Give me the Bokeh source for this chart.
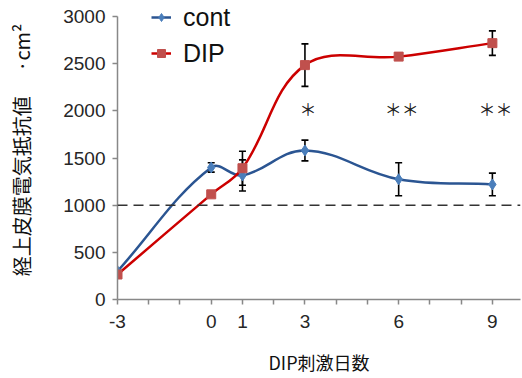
from math import hypot
from bokeh.plotting import figure
from bokeh.models import Range1d, FixedTicker, Span, ColumnDataSource, Legend, LegendItem
from bokeh.embed import file_html
from bokeh.resources import INLINE
from bokeh.core.properties import value

# ---- data ----
days = [-3, 0, 1, 3, 6, 9]
cont = [300, 1400, 1315, 1580, 1275, 1220]
cont_err = [0, 50, 165, 110, 175, 120]
dip = [265, 1115, 1392, 2485, 2575, 2718]
dip_err = [0, 30, 180, 225, 20, 130]
x_ticks = [-3, -2, -1, 0, 1, 2, 3, 4, 5, 6, 7, 8, 9]
x_tick_labels = ["-3", "", "", "0", "1", "", "3", "", "", "6", "", "", "9"]
y_ticks = [0, 500, 1000, 1500, 2000, 2500, 3000]
star_days = [3, 6, 9]
star_marks = ["＊", "＊＊", "＊＊"]
star_level = 2020
baseline = 1000

CJK = "Noto Sans CJK JP"
LAT = "Liberation Sans"
BLUE_LINE = "#2b5592"
BLUE_MARK = "#4a7ebb"
RED_LINE = "#cc0000"
RED_MARK = "#c0504d"

# pixel scales (used only to shape the smoothing curve)
PX_X = 31.25
PX_Y = 299.0 / 3170.0
TENSION = 0.38


def smooth(xs, ys):
    """Bezier segments of a smoothed line through the data points."""
    n = len(xs)
    P = [(xs[i] * PX_X, ys[i] * PX_Y) for i in range(n)]
    cin, cout = [], []
    for i in range(n):
        a = P[max(i - 1, 0)]
        b = P[i]
        c = P[min(i + 1, n - 1)]
        d01 = hypot(b[0] - a[0], b[1] - a[1])
        d12 = hypot(c[0] - b[0], c[1] - b[1])
        tot = d01 + d12 if d01 + d12 > 0 else 1.0
        fa = TENSION * d01 / tot
        fb = TENSION * d12 / tot
        tx, ty = c[0] - a[0], c[1] - a[1]
        cin.append((b[0] - fa * tx, b[1] - fa * ty))
        cout.append((b[0] + fb * tx, b[1] + fb * ty))
    d = dict(x0=[], y0=[], x1=[], y1=[], cx0=[], cy0=[], cx1=[], cy1=[])
    for i in range(n - 1):
        d["x0"].append(xs[i]); d["y0"].append(ys[i])
        d["x1"].append(xs[i + 1]); d["y1"].append(ys[i + 1])
        d["cx0"].append(cout[i][0] / PX_X); d["cy0"].append(cout[i][1] / PX_Y)
        d["cx1"].append(cin[i + 1][0] / PX_X); d["cy1"].append(cin[i + 1][1] / PX_Y)
    return ColumnDataSource(d)


def errs(xs, ys, es):
    keep = [i for i in range(len(xs)) if es[i] > 0]
    return ColumnDataSource(dict(
        x=[xs[i] for i in keep],
        lo=[ys[i] - es[i] for i in keep],
        hi=[ys[i] + es[i] for i in keep],
    ))


p = figure(width=522, height=378, output_backend="svg", toolbar_location=None,
           x_range=Range1d(-3, 9.9), y_range=Range1d(0, 3170),
           min_border_left=117, min_border_right=2, min_border_top=0,
           min_border_bottom=79)
p.outline_line_color = None
p.grid.visible = False
p.background_fill_color = "white"
p.border_fill_color = "white"

p.add_layout(Span(location=baseline, dimension="width", line_color="#333333",
                  line_width=1.5, line_dash="10 6"))

bz_c = p.bezier(x0="x0", y0="y0", x1="x1", y1="y1", cx0="cx0", cy0="cy0",
                cx1="cx1", cy1="cy1", source=smooth(days, cont),
                line_color=BLUE_LINE, line_width=2.5)
bz_d = p.bezier(x0="x0", y0="y0", x1="x1", y1="y1", cx0="cx0", cy0="cy0",
                cx1="cx1", cy1="cy1", source=smooth(days, dip),
                line_color=RED_LINE, line_width=2.5)

for src in (errs(days, cont, cont_err), errs(days, dip, dip_err)):
    p.segment(x0="x", y0="lo", x1="x", y1="hi", source=src,
              line_color="black", line_width=1.6)
    p.scatter(x="x", y="lo", source=src, marker="dash", size=7,
              line_color="black", line_width=1.6)
    p.scatter(x="x", y="hi", source=src, marker="dash", size=7,
              line_color="black", line_width=1.6)

m_c = p.scatter(days, cont, marker="diamond", size=11, fill_color=BLUE_MARK,
                line_color=BLUE_MARK)
m_d = p.scatter(days, dip, marker="square", size=9, fill_color=RED_MARK,
                line_color=RED_MARK)

p.text(x=star_days, y=[star_level] * len(star_days), text=star_marks,
       text_font=value(CJK), text_font_size="17px", text_color="#222222",
       text_align="center", text_baseline="middle", x_offset=3)

legend = Legend(items=[LegendItem(label="cont", renderers=[bz_c, m_c]),
                       LegendItem(label="DIP", renderers=[bz_d, m_d])],
                location=(34, 231), padding=0, margin=0, spacing=6,
                glyph_width=20, glyph_height=30, label_height=30,
                label_standoff=12, label_text_font=LAT,
                label_text_font_size="25px", label_text_color="#111111",
                border_line_color=None, background_fill_alpha=0)
p.add_layout(legend)

for ax in (p.xaxis[0], p.yaxis[0]):
    ax.axis_line_color = "#888888"
    ax.axis_line_width = 1.5
    ax.major_tick_line_color = "#888888"
    ax.major_tick_line_width = 1.5
    ax.major_tick_out = 5
    ax.major_tick_in = 0
    ax.minor_tick_line_color = None
    ax.major_label_text_font = LAT
    ax.major_label_text_font_size = "19px"
    ax.major_label_text_color = "#262626"
    ax.axis_label_text_font = CJK
    ax.axis_label_text_font_style = "normal"
    ax.axis_label_text_color = "#111111"

p.xaxis.ticker = FixedTicker(ticks=x_ticks)
p.xaxis.major_label_overrides = {t: l for t, l in zip(x_ticks, x_tick_labels)}
p.xaxis.major_label_standoff = 10
p.xaxis.axis_label = "DIP刺激日数"
p.xaxis.axis_label_text_font_size = "18px"
p.xaxis.axis_label_standoff = 18

p.yaxis.ticker = FixedTicker(ticks=y_ticks)
p.yaxis.bounds = (0, 3000)
p.yaxis.major_label_standoff = 7
p.yaxis.axis_label = "経上皮膜電気抵抗値\u3000 ·cm²"
p.yaxis.axis_label_text_font_size = "20px"
p.yaxis.axis_label_standoff = 24

open("out.html", "w").write(file_html(p, INLINE))
